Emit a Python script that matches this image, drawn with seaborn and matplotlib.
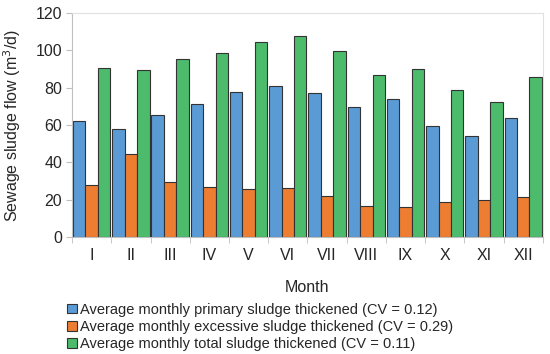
import numpy as np
import pandas as pd
import matplotlib
matplotlib.use("Agg")
import matplotlib.pyplot as plt
import seaborn as sns

months = ["I", "II", "III", "IV", "V", "VI", "VII", "VIII", "IX", "X", "XI", "XII"]
primary = [62.3, 57.7, 65.3, 71.2, 78.0, 81.2, 77.1, 69.8, 73.9, 59.6, 54.1, 63.9]
excessive = [28.2, 44.6, 29.6, 26.8, 25.7, 26.1, 22.0, 16.8, 16.4, 19.1, 19.8, 21.4]
total = [90.5, 89.3, 95.2, 98.4, 104.3, 107.5, 99.6, 87.1, 90.2, 78.7, 72.3, 85.9]
series = [
    "Average monthly primary sludge thickened (CV = 0.12)",
    "Average monthly excessive sludge thickened (CV = 0.29)",
    "Average monthly total sludge thickened (CV = 0.11)",
]
colors = ["#5B9BD5", "#ED7D31", "#4CBB6B"]

df = pd.DataFrame({
    "Month": months * 3,
    "flow": primary + excessive + total,
    "series": [s for s in series for _ in months],
})

sns.set_style("white")
plt.rcParams["font.family"] = ["Liberation Sans", "DejaVu Sans"]

fig = plt.figure(figsize=(5.5, 3.54), dpi=100)
ax = fig.add_axes([0.131, 0.330, 0.856, 0.633])
sns.barplot(data=df, x="Month", y="flow", hue="series", order=months,
            hue_order=series, palette=colors, width=0.95, edgecolor="#333333",
            linewidth=0.8, saturation=1, ax=ax, legend=True)

ax.set_ylim(0, 120)
ax.set_xlim(-0.5, len(months) - 0.5)
ax.set_yticks(range(0, 121, 20))
ax.tick_params(axis="y", labelsize=11.5, length=4, color="#bfbfbf", left=True, pad=3)
ax.tick_params(axis="x", which="major", labelsize=11.5, length=0, pad=8)
ax.set_xticks(np.arange(-0.5, len(months), 1), minor=True)
ax.tick_params(axis="x", which="minor", length=4, color="#bfbfbf", bottom=True)
for side in ["left", "bottom"]:
    ax.spines[side].set_color("#bfbfbf")
for side in ["top", "right"]:
    ax.spines[side].set_color("#e0e0e0")
ax.set_xlabel("Month", fontsize=11.5, labelpad=12)
ax.set_ylabel("Sewage sludge flow (m$^3$/d)", fontsize=11.5, labelpad=9)

handles, labels = ax.get_legend_handles_labels()
ax.get_legend().remove()
fig.legend(handles, labels, loc="upper left", bbox_to_anchor=(0.122, 0.145),
           frameon=False, fontsize=10.5, handlelength=0.65, handleheight=0.65,
           handletextpad=0.25, labelspacing=0.22, borderaxespad=0, borderpad=0)

fig.savefig("out.png", dpi=100)
